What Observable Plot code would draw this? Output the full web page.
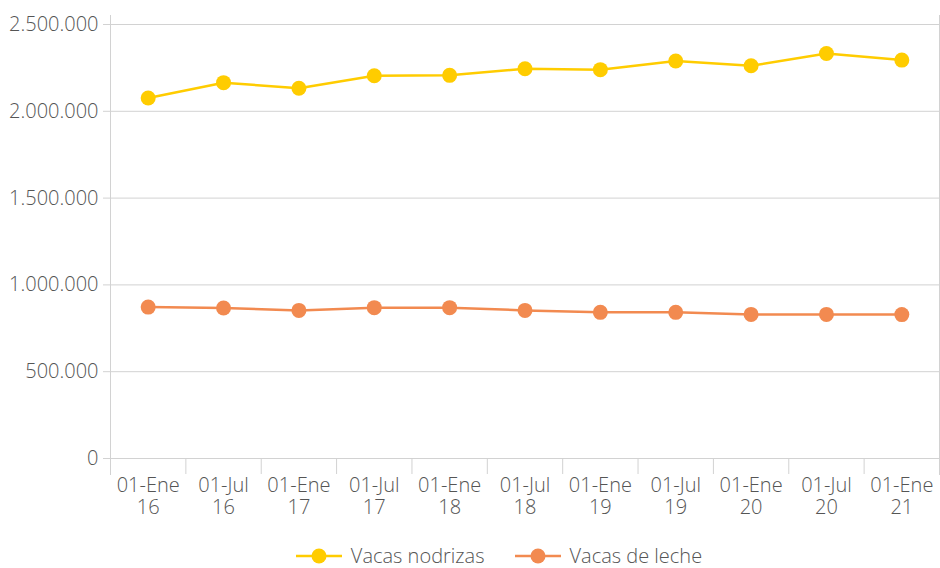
<!DOCTYPE html>
<html>
<head>
<meta charset="utf-8">
<script src="https://cdn.jsdelivr.net/npm/d3@7"></script>
<script src="https://cdn.jsdelivr.net/npm/@observablehq/plot@0.6"></script>
<style>
  html, body { margin: 0; padding: 0; background: #fff; }
  body { width: 940px; height: 568px; overflow: hidden; font-family: "Open Sans", sans-serif; }
  #legend { display: flex; justify-content: center; align-items: center; height: 32px; padding-left: 58px;
            font-family: "Open Sans", sans-serif; font-weight: 300; font-size: 20px; line-height: 28px; color: #555; }
  .item { display: flex; align-items: center; margin: 0 15px; }
  .item svg { margin-right: 9px; }
</style>
</head>
<body>
<div id="chart"></div>
<div id="legend"></div>
<script>
const periods = ["01-Ene\n16","01-Jul\n16","01-Ene\n17","01-Jul\n17","01-Ene\n18","01-Jul\n18","01-Ene\n19","01-Jul\n19","01-Ene\n20","01-Jul\n20","01-Ene\n21"];
const vacasNodrizas = [2077000, 2165000, 2133000, 2205000, 2207000, 2245000, 2240000, 2290000, 2262000, 2333000, 2295000];
const vacasLeche = [872000, 867000, 853000, 869000, 869000, 853000, 842000, 842000, 830000, 830000, 829000];
const seriesNames = ["Vacas nodrizas", "Vacas de leche"];
const seriesColors = ["#FFCC00", "#F28A50"];
const yTicks = [0, 500000, 1000000, 1500000, 2000000, 2500000];

const esFmt = d3.formatLocale({decimal: ",", thousands: ".", grouping: [3], currency: ["", "€"]}).format(",");

const rows = [];
[vacasNodrizas, vacasLeche].forEach((vals, s) => {
  vals.forEach((v, i) => rows.push({serie: seriesNames[s], idx: i + 0.5, value: v}));
});
const labelRows = periods.map((p, i) => ({idx: i + 0.5, label: p}));
const bounds = d3.range(0, periods.length + 1);

const grid = "#d2d2d2";
const txt = "#555";

const chart = Plot.plot({
  width: 940,
  height: 540,
  marginTop: 24,
  marginBottom: 82,
  marginLeft: 110,
  marginRight: 1,
  style: {fontFamily: "Open Sans, sans-serif", fontSize: "20px", fontWeight: 300, color: txt, background: "#fff"},
  x: {type: "linear", domain: [0, periods.length], axis: null},
  y: {domain: [0, 2500000], axis: null},
  color: {domain: seriesNames, range: seriesColors},
  marks: [
    Plot.ruleY(yTicks, {stroke: grid, strokeWidth: 1}),
    Plot.ruleX([0, periods.length], {stroke: grid, strokeWidth: 1, insetTop: -9, insetBottom: -17}),
    Plot.axisX({ticks: bounds.slice(1, -1), tickFormat: () => "", tickSize: 16, stroke: grid, strokeOpacity: 1, label: null}),
    Plot.axisY({ticks: yTicks, tickFormat: esFmt, tickSize: 7, tickPadding: 5, stroke: grid, strokeOpacity: 1, fill: txt, fontSize: 20, fontWeight: 300, label: null}),
    Plot.text(labelRows, {x: "idx", text: "label", frameAnchor: "bottom", lineAnchor: "top", dy: 17, lineHeight: 1.13, fill: txt, fontSize: 20, fontWeight: 300}),
    Plot.line(rows, {x: "idx", y: "value", z: "serie", stroke: "serie", strokeWidth: 2.5}),
    Plot.dot(rows, {x: "idx", y: "value", fill: "serie", r: 7.5})
  ]
});
document.getElementById("chart").appendChild(chart);

const legend = document.getElementById("legend");
seriesNames.forEach((name, i) => {
  const item = document.createElement("div");
  item.className = "item";
  item.innerHTML = `<svg width="46" height="20"><line x1="0" x2="46" y1="10" y2="10" stroke="${seriesColors[i]}" stroke-width="2.5"/><circle cx="23" cy="10" r="7.5" fill="${seriesColors[i]}"/></svg><span>${name}</span>`;
  legend.appendChild(item);
});
</script>
</body>
</html>
